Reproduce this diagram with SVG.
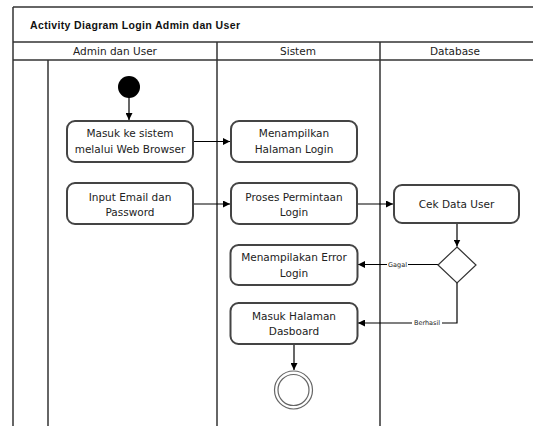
<svg xmlns="http://www.w3.org/2000/svg" width="533" height="426" viewBox="0 0 533 426">
<style>
.frame{stroke:#333;stroke-width:1.5;fill:none}
.node rect{fill:#fff;stroke:#444;stroke-width:2}
.t{font-family:"DejaVu Sans",sans-serif;font-size:10.5px;fill:#222;text-anchor:middle}
.lbl{font-family:"DejaVu Sans",sans-serif;font-size:6.5px;fill:#222;text-anchor:middle}
.edge{stroke:#000;stroke-width:1.2;fill:none}
</style>
<defs>
<marker id="arr" viewBox="0 0 10 10" refX="10" refY="5" markerWidth="7" markerHeight="7" orient="auto" markerUnits="userSpaceOnUse">
<path d="M0,0 L10,5 L0,10 z" fill="#000"/>
</marker>
</defs>
<rect width="533" height="426" fill="#fff"/>
<g id="frame">
<line class="frame" x1="13" y1="7" x2="533" y2="7"/>
<line class="frame" x1="13" y1="7" x2="13" y2="426"/>
<line class="frame" x1="13" y1="42" x2="533" y2="42"/>
<line class="frame" x1="13" y1="60" x2="533" y2="60"/>
<line class="frame" x1="48" y1="60" x2="48" y2="426"/>
<line class="frame" x1="217" y1="42" x2="217" y2="426"/>
<line class="frame" x1="380" y1="42" x2="380" y2="426"/>
<text x="30" y="29" font-family="'Liberation Sans',sans-serif" font-size="10.5" font-weight="bold" fill="#111" textLength="210">Activity Diagram Login Admin dan User</text>
<text class="t" x="115" y="55">Admin dan User</text>
<text class="t" x="298" y="55">Sistem</text>
<text class="t" x="455" y="55">Database</text>
</g>
<g id="connectors">
<line class="edge" x1="129" y1="97" x2="129" y2="120" marker-end="url(#arr)"/>
<line class="edge" x1="193" y1="141.5" x2="230" y2="141.5" marker-end="url(#arr)"/>
<line class="edge" x1="193" y1="204" x2="230" y2="204" marker-end="url(#arr)"/>
<line class="edge" x1="357" y1="204" x2="393" y2="204" marker-end="url(#arr)"/>
<line class="edge" x1="457" y1="223" x2="457" y2="246.5" marker-end="url(#arr)"/>
<line class="edge" x1="438" y1="264.5" x2="358" y2="264.5" marker-end="url(#arr)"/>
<polyline class="edge" points="457,283 457,323 358,323" marker-end="url(#arr)"/>
<line class="edge" x1="294" y1="344" x2="294" y2="370" marker-end="url(#arr)"/>
<rect x="387" y="261" width="21" height="7" fill="#fff"/>
<text class="lbl" x="397.5" y="266.8">Gagal</text>
<rect x="412" y="319.5" width="30" height="7" fill="#fff"/>
<text class="lbl" x="427" y="325.3">Berhasil</text>
</g>
<g id="start">
<circle cx="129" cy="87" r="11" fill="#000"/>
</g>
<g id="n1" class="node">
<rect x="67" y="121" width="126" height="41" rx="8"/>
<text class="t" x="130" y="137">Masuk ke sistem</text>
<text class="t" x="130" y="153">melalui Web Browser</text>
</g>
<g id="n2" class="node">
<rect x="67" y="183" width="126" height="41" rx="8"/>
<text class="t" x="130" y="201">Input Email dan</text>
<text class="t" x="130" y="216">Password</text>
</g>
<g id="n3" class="node">
<rect x="231" y="121" width="126" height="41" rx="8"/>
<text class="t" x="294" y="137">Menampilkan</text>
<text class="t" x="294" y="153">Halaman Login</text>
</g>
<g id="n4" class="node">
<rect x="231" y="183" width="126" height="41" rx="8"/>
<text class="t" x="294" y="201">Proses Permintaan</text>
<text class="t" x="294" y="216">Login</text>
</g>
<g id="n5" class="node">
<rect x="394" y="185" width="125" height="38" rx="8"/>
<text class="t" x="456.5" y="207.5">Cek Data User</text>
</g>
<g id="decision">
<polygon points="457,247 476,265 457,283 438,265" fill="#fff" stroke="#333" stroke-width="1.2"/>
</g>
<g id="n6" class="node">
<rect x="230.5" y="245" width="127" height="40" rx="8"/>
<text class="t" x="294" y="261">Menampilakan  Error</text>
<text class="t" x="294" y="277">Login</text>
</g>
<g id="n7" class="node">
<rect x="230.5" y="303" width="127" height="41" rx="8"/>
<text class="t" x="294" y="320">Masuk Halaman</text>
<text class="t" x="294" y="335">Dasboard</text>
</g>
<g id="end">
<circle cx="293.5" cy="390" r="19" fill="#fff" stroke="#666" stroke-width="1.2"/>
<circle cx="293.5" cy="390" r="15.5" fill="#fff" stroke="#666" stroke-width="1.2"/>
</g>
</svg>
